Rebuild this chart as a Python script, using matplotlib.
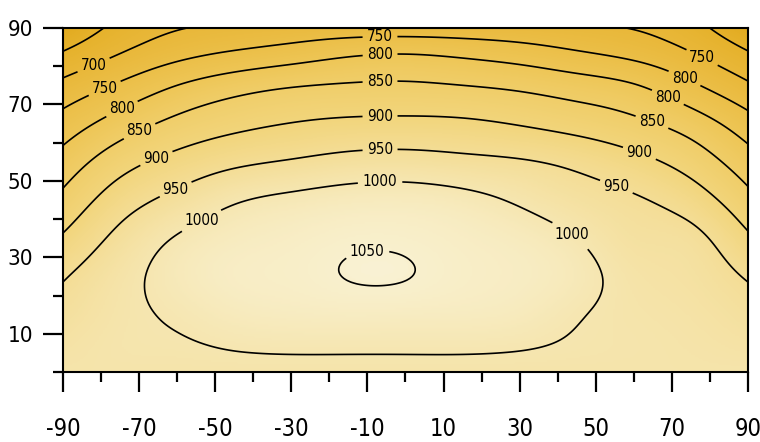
import numpy as np
import matplotlib
matplotlib.use("Agg")
import matplotlib.pyplot as plt
from matplotlib.colors import LinearSegmentedColormap, Normalize
from matplotlib.ticker import FixedLocator

# azimuth (deg) and tilt (deg) of the read-off grid
azimuth = [-90, -75, -60, -45, -30, -15, 0, 15, 30, 45, 60, 75, 90]
tilt = [0, 5, 15, 25, 35, 45, 55, 65, 75, 85, 90]

# irradiance, one row per azimuth, values bottom -> top (tilt)
irradiance = [
    [990, 983, 966, 946, 906, 863, 820, 771, 713, 642, 605],     # -90
    [990, 993, 991, 985, 963, 926, 880, 823, 757, 690, 665],     # -75
    [990, 995, 1005, 1016, 1003, 964, 916, 863, 800, 723, 697],  # -60
    [990, 999, 1021, 1035, 1025, 995, 940, 887, 829, 743, 709],  # -45
    [990, 1001, 1028, 1041, 1035, 1010, 954, 901, 846, 759, 717],  # -30
    [990, 1001, 1031, 1051, 1044, 1020, 966, 909, 854, 776, 721],  # -15
    [990, 1001, 1030, 1051, 1044, 1022, 969, 911, 856, 782, 721],  # 0
    [990, 1001, 1028, 1040, 1035, 1013, 962, 908, 850, 774, 719],  # 15
    [990, 999, 1021, 1032, 1023, 994, 954, 897, 840, 761, 715],  # 30
    [990, 995, 1003, 1014, 1000, 972, 939, 881, 824, 743, 708],  # 45
    [990, 992, 990, 985, 972, 955, 915, 861, 803, 724, 698],     # 60
    [990, 988, 982, 974, 962, 926, 879, 827, 758, 693, 668],     # 75
    [990, 982, 966, 946, 908, 865, 822, 771, 707, 643, 605],     # 90
]

levels = [650, 700, 750, 800, 850, 900, 950, 1000, 1050]

# where the contour labels sit (azimuth, tilt)
label_pos = [
    (-82, 80.4), (-79, 74.1), (-74.5, 68.8), (-69.8, 62.8), (-65.3, 55.5),
    (-60.6, 48.2), (-54, 40.3),
    (-6.7, 87.7), (-6.7, 83.5), (-6.7, 76.2), (-6.7, 67.3), (-6.7, 58.6),
    (-6.7, 50.3), (-10, 31),
    (44, 36.6), (55.8, 49.5), (61.6, 57.6), (65, 66), (69, 72),
    (73.4, 77), (77.9, 82.2),
]
# the right-hand labels of the two top lines read differently on the original
right_label_text = {"750": "800", "700": "750"}

xtick_vals = list(range(-90, 91, 20))
xtick_labels = [str(v) for v in xtick_vals]
ytick_vals = [10, 30, 50, 70, 90]
ytick_labels = [str(v) for v in ytick_vals]


def spline(x, y, xn):
    # natural cubic spline, only used to draw a smooth surface between read values
    x = np.asarray(x, float)
    y = np.asarray(y, float)
    n = len(x)
    h = np.diff(x)
    A = np.zeros((n, n))
    r = np.zeros(n)
    A[0, 0] = A[-1, -1] = 1
    for i in range(1, n - 1):
        A[i, i - 1] = h[i - 1]
        A[i, i] = 2 * (h[i - 1] + h[i])
        A[i, i + 1] = h[i]
        r[i] = 6 * ((y[i + 1] - y[i]) / h[i] - (y[i] - y[i - 1]) / h[i - 1])
    m = np.linalg.solve(A, r)
    k = np.clip(np.searchsorted(x, xn, side="right") - 1, 0, n - 2)
    hk = h[k]
    a = (x[k + 1] - xn) / hk
    b = (xn - x[k]) / hk
    return a * y[k] + b * y[k + 1] + ((a**3 - a) * m[k] + (b**3 - b) * m[k + 1]) * hk**2 / 6


Z = np.array(irradiance, dtype=float)
az_f = np.linspace(-90, 90, 361)
tilt_f = np.linspace(0, 90, 181)
Zt = np.array([spline(tilt, col, tilt_f) for col in Z])           # (naz, ntilt_f)
Zf = np.array([spline(azimuth, Zt[:, j], az_f) for j in range(len(tilt_f))])  # (ntilt_f, naz_f)

cmap = LinearSegmentedColormap.from_list("gold", [
    (0.0, "#e2aa1e"),
    ((650 - 600) / 460, "#e6b22c"),
    ((700 - 600) / 460, "#e9b83a"),
    ((800 - 600) / 460, "#eec656"),
    ((900 - 600) / 460, "#f2d57b"),
    ((950 - 600) / 460, "#f4dd95"),
    ((1000 - 600) / 460, "#f6e6b0"),
    ((1050 - 600) / 460, "#f9f0cd"),
    (1.0, "#faf4dc"),
])

fig = plt.figure(figsize=(7.6, 4.42), dpi=100)
ax = fig.add_axes([0.0829, 0.1584, 0.9013, 0.7783])

ax.imshow(Zf, extent=[-90, 90, 0, 90], origin="lower", aspect="auto",
          cmap=cmap, norm=Normalize(600, 1060), interpolation="bilinear")
cs = ax.contour(az_f, tilt_f, Zf, levels=levels, colors="black", linewidths=1.2)

ax.set_xlim(-90, 90)
ax.set_ylim(0, 90)

labels = ax.clabel(cs, manual=label_pos, inline=True, fmt="%d",
                   inline_spacing=3, fontsize=11)
for t in labels:
    t.set_family("DejaVu Sans")
    t.set_stretch("condensed")
    t.set_rotation(0)
    x, y = t.get_position()
    if x > 60 and t.get_text() in right_label_text:
        t.set_text(right_label_text[t.get_text()])

ax.set_xticks(xtick_vals)
ax.set_xticklabels(xtick_labels, family="DejaVu Sans", stretch="condensed", fontsize=17)
ax.xaxis.set_minor_locator(FixedLocator(list(range(-80, 81, 20))))
ax.set_yticks(ytick_vals)
ax.set_yticklabels(ytick_labels, family="DejaVu Sans", stretch="condensed", fontsize=16)
ax.yaxis.set_minor_locator(FixedLocator([0, 20, 40, 60, 80]))

ax.tick_params(axis="x", which="major", length=14.4, width=1.6, pad=18)
ax.tick_params(axis="y", which="major", length=14.4, width=1.6, pad=7)
ax.tick_params(which="minor", length=7.2, width=1.6)
for s in ax.spines.values():
    s.set_linewidth(1.5)
    s.set_color("black")

fig.savefig("out.png", dpi=100)
